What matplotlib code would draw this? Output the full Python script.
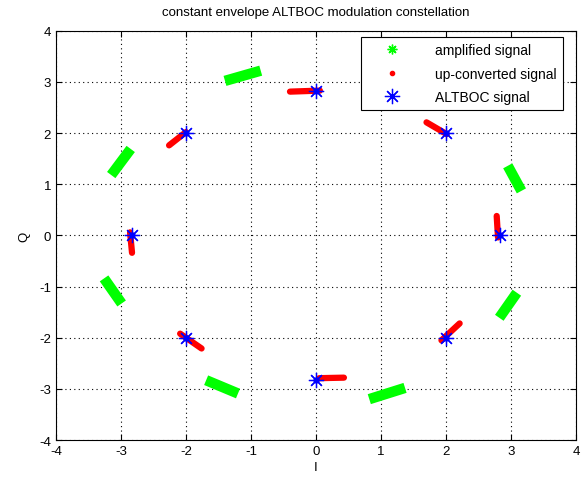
import matplotlib
matplotlib.use("Agg")
from matplotlib import pyplot as plt
from matplotlib.lines import Line2D

plt.rcParams['font.family'] = ['Liberation Sans', 'DejaVu Sans']
plt.rcParams['axes.unicode_minus'] = False

# ALTBOC constellation points
altboc_I = [0.0, 2.0, 2.83, 2.0, 0.0, -2.0, -2.83, -2.0]
altboc_Q = [2.83, 2.0, 0.0, -2.0, -2.83, -2.0, 0.0, 2.0]

# up-converted signal: start / end of each cluster
upconv_I0 = [-0.40, 1.70, 2.78, 1.93, 0.05, -2.09, -2.86, -2.26]
upconv_Q0 = [2.81, 2.21, 0.38, -2.05, -2.79, -1.92, 0.06, 1.76]
upconv_I1 = [0.06, 2.01, 2.80, 2.21, 0.43, -1.76, -2.83, -2.00]
upconv_Q1 = [2.83, 1.98, -0.04, -1.72, -2.78, -2.21, -0.34, 2.02]

# amplified signal: start / end of each cluster
amp_I0 = [-1.40, 1.10, 2.95, 2.82, 0.82, -1.69, -3.26, -3.15]
amp_Q0 = [3.02, 3.00, 1.36, -1.61, -3.20, -2.83, -0.84, 1.18]
amp_I1 = [-0.85, 1.55, 3.16, 3.09, 1.37, -1.20, -2.99, -2.85]
amp_Q1 = [3.22, 2.75, 0.87, -1.12, -2.98, -3.09, -1.33, 1.69]

fig = plt.figure(figsize=(5.83, 4.81), dpi=100)
ax = fig.add_axes([0.096, 0.083, 0.892, 0.851])

green = (0, 1, 0)
red = (1, 0, 0)
blue = (0, 0, 1)

for i in range(len(amp_I0)):
    ax.plot([amp_I0[i], amp_I1[i]], [amp_Q0[i], amp_Q1[i]],
            color=green, lw=7.5, solid_capstyle='butt', zorder=2)

for i in range(len(upconv_I0)):
    ax.plot([upconv_I0[i], upconv_I1[i]], [upconv_Q0[i], upconv_Q1[i]],
            color=red, lw=4.5, solid_capstyle='round', zorder=3)

ax.plot(altboc_I, altboc_Q, ls='none', marker=(8, 2, 0), ms=11,
        mec=blue, mew=0.9, zorder=4)
ax.plot(altboc_I, altboc_Q, ls='none', marker='o', ms=3.5,
        mfc=blue, mec=blue, zorder=4)

ax.set_xlim(-4, 4)
ax.set_ylim(-4, 4)
ax.set_xticks(range(-4, 5))
ax.set_yticks(range(-4, 5))
ax.grid(True, linestyle=(0, (1, 3)), color='black', lw=0.8)
ax.tick_params(direction='in', top=True, right=True, labelsize=9.5, length=4)
for s in ax.spines.values():
    s.set_linewidth(0.8)

ax.set_xlabel('I', fontsize=9.5, labelpad=3)
ax.set_ylabel('Q', fontsize=9.5, labelpad=6)
ax.set_title('constant envelope ALTBOC modulation constellation', fontsize=9.5, pad=11)

handles = [
    Line2D([], [], ls='none', marker=(8, 2, 0), ms=7, mec=green, mew=1.0),
    Line2D([], [], ls='none', marker='.', ms=6, color=red),
    Line2D([], [], ls='none', marker=(8, 2, 0), ms=11, mec=blue, mew=0.9),
]
labels = ['amplified signal', 'up-converted signal', 'ALTBOC signal']
leg = ax.legend(handles, labels, loc='upper right', bbox_to_anchor=(0.975, 0.985),
                fontsize=10, fancybox=False, framealpha=1, edgecolor='black',
                borderaxespad=0, handletextpad=1.3, handlelength=3.6,
                labelspacing=0.68, borderpad=0.45)
leg.get_frame().set_linewidth(0.8)
leg.set_zorder(10)

fig.savefig('out.png', dpi=100)
